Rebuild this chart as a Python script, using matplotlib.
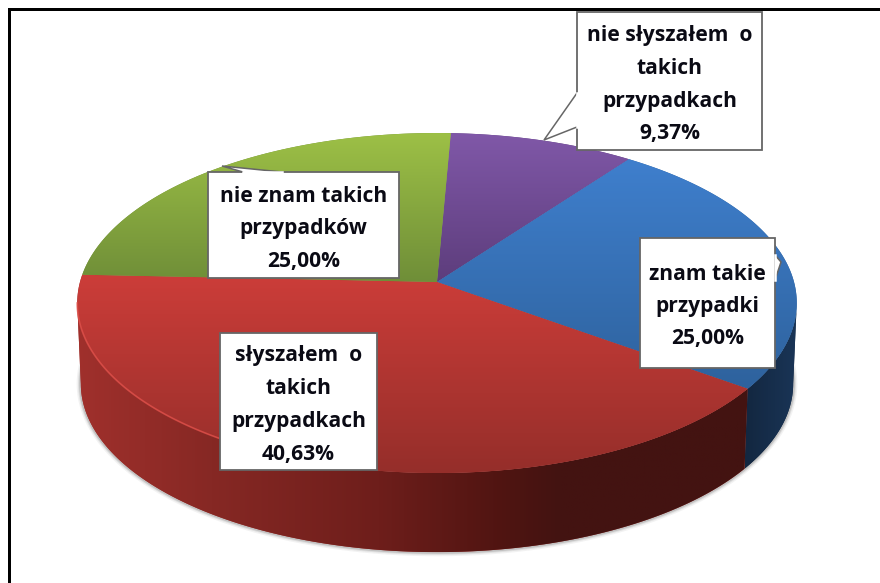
import numpy as np
import matplotlib
matplotlib.use("Agg")
import matplotlib.pyplot as plt
from matplotlib.colors import LinearSegmentedColormap
from matplotlib.patches import Polygon, Rectangle

# data (clockwise from the near-top start)
categories = ["nie słyszałem  o\ntakich\nprzypadkach", "znam takie\nprzypadki",
              "słyszałem  o\ntakich\nprzypadkach", "nie znam takich\nprzypadków"]
values = [9.37, 25.00, 40.63, 25.00]

# styles
top_colors = [("#8058a8", "#5d3d7c"), ("#3f7fcd", "#2e629d"), ("#cc3d39", "#952e2a"), ("#9dc046", "#6f8e38")]
side_stops = {1: [(0, "#132740"), (1, "#1a3557")],
              2: [(0, "#a0302c"), (0.2, "#862824"), (0.45, "#6e1e1b"), (0.62, "#521512"), (0.72, "#431311"), (1, "#431311")]}
box_px = [(577, 12, 762, 150), (640, 238, 775, 368), (220, 333, 377, 470), (208, 172, 399, 278)]
pointers = [[(577, 93), (544, 140), (577, 127)], [(775, 255), (781, 262), (775, 280)],
            None, [(243, 172), (222, 166), (282, 172)]]
line_gap = [33, 32, 33, 32.5]
text_shift = 3.5
start_deg = 2.5
cx, cy, rx, ry, k = 437.0, 282.0, 357.0, 167.4, 0.1236
drop, wall_scale = 81.0, 0.99

fig = plt.figure(figsize=(8.8, 5.83), dpi=100, facecolor="white")
ax = fig.add_axes([0, 0, 1, 1])
ax.set_xlim(0, 880)
ax.set_ylim(583, 0)
ax.axis("off")


def project(theta, scale=1.0, dy=0.0):
    u, v = np.sin(theta), np.cos(theta)
    w = 1 + k * v
    return cx + scale * rx * u / w, cy + dy + scale * ry * v * -1 / w


fractions = np.array(values) / np.sum(values)
edges = np.deg2rad(start_deg) + 2 * np.pi * np.concatenate([[0], np.cumsum(fractions)])
# angles where the projected rim is widest: the wall's visible limits
right_limit = np.arccos(-k)
left_limit = 2 * np.pi - right_limit

# soft shadow under the wall
th = np.linspace(right_limit - 0.15, left_limit + 0.15, 300)
bx, by = project(th, wall_scale, drop)
for lw, a in zip([6, 4, 2.5], [0.06, 0.1, 0.16]):
    ax.plot(bx, by, color="#303030", lw=lw, alpha=a, zorder=1, solid_capstyle="butt")

# walls with a horizontal gradient
for i in (1, 2):
    a0 = right_limit if i == 1 else edges[i]
    a1 = edges[i + 1] if i == 1 else left_limit
    th = np.linspace(a0, a1, 260)
    tx, ty = project(th)
    bx, by = project(th, wall_scale, drop)
    pts = np.vstack([np.column_stack([tx, ty]), np.column_stack([bx, by])[::-1]])
    wall = Polygon(pts, closed=True, facecolor=side_stops[i][0][1], edgecolor="none", zorder=2)
    ax.add_patch(wall)
    cmap = LinearSegmentedColormap.from_list(f"s{i}", side_stops[i])
    im = ax.imshow(np.linspace(0, 1, 256).reshape(1, -1), cmap=cmap, aspect="auto",
                   extent=(pts[:, 0].min(), pts[:, 0].max(), pts[:, 1].max(), pts[:, 1].min()),
                   zorder=2.1)
    im.set_clip_path(wall)

# top faces with a vertical gradient
for i in range(len(values)):
    th = np.linspace(edges[i], edges[i + 1], 200)
    x, y = project(th)
    pts = np.vstack([[cx, cy], np.column_stack([x, y])])
    poly = Polygon(pts, closed=True, facecolor=top_colors[i][1], edgecolor="none", zorder=3)
    ax.add_patch(poly)
    y0, y1 = pts[:, 1].min(), pts[:, 1].max()
    cmap = LinearSegmentedColormap.from_list(f"t{i}", top_colors[i])
    im = ax.imshow(np.linspace(0, 1, 256).reshape(-1, 1), cmap=cmap, aspect="auto",
                   extent=(pts[:, 0].min(), pts[:, 0].max(), y1, y0), origin="upper", zorder=3.1)
    im.set_clip_path(poly)
ax.set_xlim(0, 880)
ax.set_ylim(583, 0)

# light rim along the left front of the red slice
th = np.linspace(edges[2] + np.deg2rad(70), left_limit, 120)
x, y = project(th)
ax.plot(x, y, color="#e0504a", lw=1.2, alpha=0.8, zorder=3.2)

# frame
ax.add_patch(Rectangle((8, 8), 3, 575, facecolor="black", edgecolor="none", zorder=6))
ax.add_patch(Rectangle((8, 8), 872, 3, facecolor="black", edgecolor="none", zorder=6))

# callouts
for i, (name, val) in enumerate(zip(categories, values)):
    x0, y0, x1, y1 = box_px[i]
    ax.add_patch(Rectangle((x0, y0), x1 - x0, y1 - y0, facecolor="white", edgecolor="#666666", lw=1.3, zorder=7))
    if pointers[i] is not None:
        ax.add_patch(Polygon(pointers[i], closed=False, facecolor="white", edgecolor="#666666", lw=1.1, zorder=7.1))
        p = np.array(pointers[i])
        ax.plot(p[[0, 2], 0], p[[0, 2], 1], color="white", lw=1.8, zorder=7.2)
    lines = name.split("\n") + [f"{val:.2f}".replace(".", ",") + "%"]
    ym = (y0 + y1) / 2 + text_shift
    for n, line in enumerate(lines):
        ax.text((x0 + x1) / 2, ym + (n - (len(lines) - 1) / 2) * line_gap[i], line,
                ha="center", va="center", fontsize=15.1, fontweight="bold", family="Open Sans",
                color="#0a0a14", zorder=8)

fig.savefig("out.png", dpi=100, facecolor="white")
